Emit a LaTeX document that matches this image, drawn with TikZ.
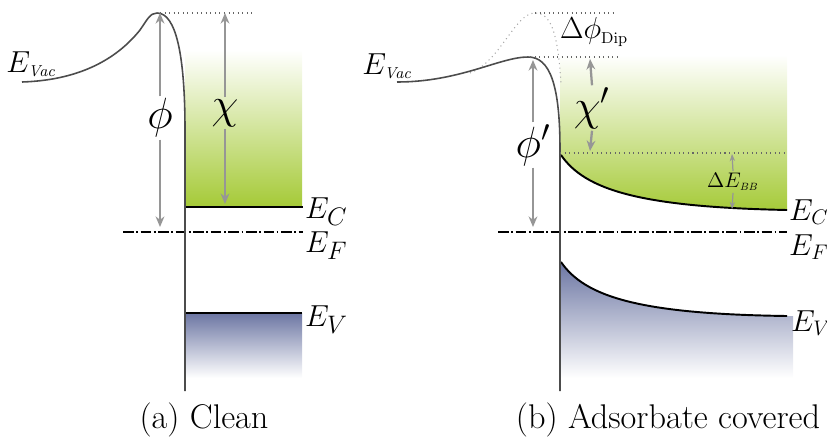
\documentclass[tikz,border=0pt]{standalone}
\usetikzlibrary{arrows.meta}
\definecolor{grn}{RGB}{165,202,55}
\definecolor{blu}{RGB}{108,118,163}
\definecolor{arr}{RGB}{150,150,150}
\tikzset{
  band/.style={black,line width=1.1pt},
  vac/.style={black!70,line width=0.9pt},
  guide/.style={black!60,line width=0.6pt,dotted},
  fermi/.style={black,line width=1.1pt,dash pattern=on 6pt off 1.5pt on 1pt off 1.5pt},
  garrow/.style={arr,line width=1.3pt,-{Stealth[length=6pt,width=5pt]}},
  biglab/.style={font=\fontsize{25}{25}\selectfont,inner sep=1pt},
  lvl/.style={font=\fontsize{19}{19}\selectfont,anchor=west,inner sep=1pt},
  lvlb/.style={font=\fontsize{17}{17}\selectfont,anchor=west,inner sep=0.5pt},
  vaclab/.style={font=\fontsize{18}{18}\selectfont,anchor=west,inner sep=0pt},
  captext/.style={font=\fontsize{19.5}{20}\selectfont}
}
\begin{document}
\begin{tikzpicture}[x=0.02cm,y=-0.02cm]
\useasboundingbox (0,0) rectangle (827,443);
% ---------- panel (a) ----------
\shade[top color=white,bottom color=grn] (185,50) rectangle (302,207);
\shade[top color=blu,bottom color=white] (185,313) rectangle (302,378);
\draw[band] (185,207) -- (303,207);
\draw[band] (185,313) -- (302,313);
\draw[fermi] (123,232) -- (303,232);
\draw[vac] (22,82) .. controls (85,80) and (120,55) .. (140,30) .. controls (147,20) and (150,13) .. (157,13) .. controls (176,13) and (185,55) .. (185,130) -- (185,391);
\draw[guide] (160,13) -- (252,13);
\coordinate (pa1) at (160,13);
\coordinate (pa2) at (160,227);
\coordinate (ca1) at (225,13);
\coordinate (ca2) at (225,204);
\node[biglab] (phia) at (160,118) {$\phi$};
\node[biglab] (chia) at (225,113) {$\chi$};
\draw[garrow] (phia.north) -- (pa1);
\draw[garrow] (phia.south) -- (pa2);
\draw[garrow] (chia.north) -- (ca1);
\draw[garrow] (chia.south) -- (ca2);
\node[vaclab] (evaca) at (6,64) {$E_{\scriptscriptstyle\mathit{Vac}}$};
\node[lvl] (eca) at (303,212) {$E_C$};
\node[lvl] (efa) at (303,246) {$E_F$};
\node[lvl] (eva) at (303,320) {$E_V$};
\node[captext] (capa) at (204,420) {(a) Clean};
% ---------- panel (b) ----------
\begin{scope}
\clip (560,50) -- (560,155) .. controls (585,190) and (640,207) .. (787,210) -- (787,50) -- cycle;
\shade[top color=white,bottom color=grn] (560,55) rectangle (787,212);
\end{scope}
\begin{scope}
\clip (560,262) .. controls (585,297) and (640,314) .. (787,316) -- (793,316) -- (793,378) -- (560,378) -- cycle;
\shade[top color=blu,bottom color=white] (560,262) rectangle (793,378);
\end{scope}
\draw[band] (561,155) .. controls (585,190) and (640,207) .. (787,210);
\draw[band] (561,262) .. controls (585,297) and (640,314) .. (787,316);
\draw[fermi] (498,232) -- (787,232);
\draw[black!35,line width=0.6pt,dotted] (470,73) .. controls (500,62) and (515,13) .. (535,13) .. controls (550,13) and (558,30) .. (561,85);
\draw[vac] (397,82) .. controls (460,82) and (500,57) .. (528,57) .. controls (550,57) and (560,85) .. (560,150) -- (560,391);
\draw[guide] (535,13) -- (613,13);
\draw[guide] (530,57) -- (620,57);
\draw[guide] (560,153) -- (787,153);
\coordinate (pb1) at (533,60);
\coordinate (pb2) at (533,227);
\coordinate (cb1) at (590,59);
\coordinate (cb2) at (590,151);
\coordinate (bb1) at (732,154);
\coordinate (bb2) at (732,209);
\node[biglab] (phib) at (533,145) {$\phi'$};
\node[biglab] (chib) at (592,108) {$\chi'$};
\node[font=\fontsize{13}{13}\selectfont,inner sep=1pt] (ebb) at (733,182) {$\Delta E_{\scriptscriptstyle\mathit{BB}}$};
\draw[garrow] (phib.north) -- (pb1);
\draw[garrow] (phib.south) -- (pb2);
\draw[garrow] (chib.north) -- (cb1);
\draw[garrow] (chib.south) -- (cb2);
\draw[arr,line width=0.7pt,-{Stealth[length=4pt,width=3pt]}] (ebb.north) -- (bb1);
\draw[arr,line width=0.7pt,-{Stealth[length=4pt,width=3pt]}] (ebb.south) -- (bb2);
\node[font=\fontsize{18}{18}\selectfont,inner sep=1pt] (dphi) at (594,32) {$\Delta\phi_{\scriptscriptstyle\mathrm{Dip}}$};
\node[vaclab] (evacb) at (362,66) {$E_{\scriptscriptstyle\mathit{Vac}}$};
\node[lvlb] (ecb) at (788,212) {$E_C$};
\node[lvlb] (efb) at (788,247) {$E_F$};
\node[lvlb] (evb) at (790,323) {$E_V$};
\node[captext] (capb) at (668,420) {(b) Adsorbate covered};
\end{tikzpicture}
\end{document}
